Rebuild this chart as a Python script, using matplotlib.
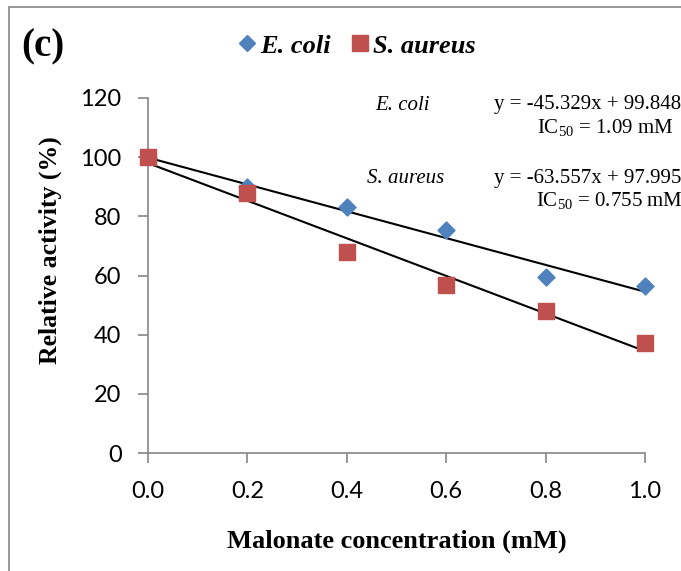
import numpy as np
import matplotlib
matplotlib.use('Agg')
import matplotlib.pyplot as plt
from matplotlib.patches import Rectangle
from matplotlib.lines import Line2D

# data
conc = [0.0, 0.2, 0.4, 0.6, 0.8, 1.0]
ecoli = [100.0, 90.0, 83.0, 75.4, 59.5, 56.4]
saureus = [100.0, 87.8, 68.0, 56.8, 48.0, 37.3]

# linear fits as printed on the chart (slope, intercept)
ecoli_fit = [-45.329, 99.848]
saureus_fit = [-63.557, 97.995]

xticks = [0.0, 0.2, 0.4, 0.6, 0.8, 1.0]
yticks = [0, 20, 40, 60, 80, 100, 120]

blue = '#4F81BD'
red = '#C0504D'
grey = '#868686'
serif = 'Liberation Serif'

plt.rcParams['mathtext.fontset'] = 'custom'
plt.rcParams['mathtext.rm'] = serif

fig = plt.figure(figsize=(6.81, 5.71), dpi=100)
W, H = 681, 571

# outer frame (cropped on right/bottom)
fig.patches.append(Rectangle((9 / W, -0.1), 1.2, 1.1 - 7 / H, transform=fig.transFigure,
                             fill=False, edgecolor=grey, lw=1.2))

ax = fig.add_axes([148 / W, 1 - 453 / H, (645 - 148) / W, (453 - 98) / H])

xs = np.array([0.0, 1.0])
ax.plot(xs, np.polyval(ecoli_fit, xs), color='black', lw=1.5, zorder=3)
ax.plot(xs, np.polyval(saureus_fit, xs), color='black', lw=1.5, zorder=3)

ax.scatter(conc, ecoli, marker='D', s=75, color=blue, zorder=4, clip_on=False)
ax.scatter(conc, saureus, marker='s', s=120, color=red, zorder=5, clip_on=False)

ax.set_xlim(0, 1.0)
ax.set_ylim(0, 120)
ax.set_xticks(xticks)
ax.set_xticklabels([f'{v:.1f}' for v in xticks])
ax.set_yticks(yticks)
for s in ['top', 'right']:
    ax.spines[s].set_visible(False)
for s in ['left', 'bottom']:
    ax.spines[s].set_color(grey)
    ax.spines[s].set_linewidth(1.2)
ax.tick_params(direction='out', length=7, color=grey, width=1.2, labelsize=17)
for lab in ax.get_xticklabels() + ax.get_yticklabels():
    lab.set_family('Lato')
ax.tick_params(axis='x', pad=13)
ax.tick_params(axis='y', pad=12)

ax.set_xlabel('Malonate concentration (mM)', family=serif, fontweight='bold', fontsize=19, labelpad=20)
ax.set_ylabel('Relative activity (%)', family=serif, fontweight='bold', fontsize=18.5)
ax.yaxis.set_label_coords(-0.173, (453 - 250) / 355)

# panel tag
fig.text(21 / W, 1 - 47 / H, '(c)', family=serif, fontweight='bold', fontsize=28, va='center')

# legend
handles = [Line2D([], [], marker='D', ls='', color=blue, markersize=8),
           Line2D([], [], marker='s', ls='', color=red, markersize=11)]
leg = fig.legend(handles, ['E. coli', 'S. aureus'], loc='center', bbox_to_anchor=(355 / W, 1 - 46 / H),
                 ncol=2, frameon=False, handletextpad=0.0, columnspacing=0.6, handlelength=1.0,
                 prop={'family': serif, 'weight': 'bold', 'style': 'italic', 'size': 19})

# fit annotations
fs = 15
fig.text(375 / W, 1 - 105 / H, 'E. coli', family=serif, style='italic', fontsize=fs, va='center')
fig.text(494 / W, 1 - 105 / H, 'y = -45.329x + 99.848', family=serif, fontsize=fs, va='center')
fig.text(537 / W, 1 - 128 / H, r'IC$_{50}$ = 1.09 mM', family=serif, fontsize=fs, va='center')
fig.text(367 / W, 1 - 178 / H, 'S. aureus', family=serif, style='italic', fontsize=fs, va='center')
fig.text(494 / W, 1 - 178 / H, 'y = -63.557x + 97.995', family=serif, fontsize=fs, va='center')
fig.text(536 / W, 1 - 201 / H, r'IC$_{50}$ = 0.755 mM', family=serif, fontsize=fs, va='center')

fig.savefig('out.png', dpi=100)
